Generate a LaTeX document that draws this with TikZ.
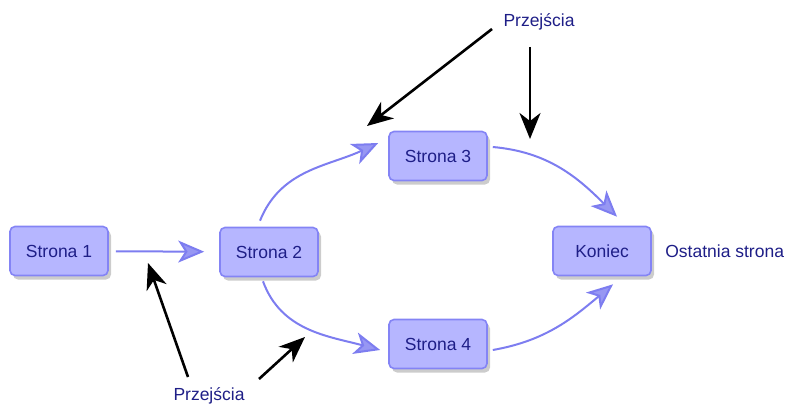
\documentclass[tikz,border=0pt]{standalone}
\usepackage{fontspec}
\setsansfont{Liberation Sans}
\usepackage{tikz}
\usetikzlibrary{arrows.meta,positioning,shadows}
\definecolor{pagefill}{RGB}{182,182,255}
\definecolor{pageline}{RGB}{132,132,245}
\definecolor{linkblue}{RGB}{125,125,240}
\definecolor{ink}{RGB}{30,30,135}
\tikzset{
  page/.style={draw=pageline, line width=1.6pt, rounded corners=5pt, fill=pagefill,
    minimum width=98pt, minimum height=49pt, text=ink,
    font=\sffamily\fontsize{17.5}{20}\selectfont,
    drop shadow={shadow xshift=3pt, shadow yshift=-4pt, opacity=0.4}},
  note/.style={text=ink, font=\sffamily\fontsize{17.5}{20}\selectfont},
  link/.style={draw=linkblue, line width=2pt,
    -{Stealth[length=26pt, width=22pt, inset=7pt, fill=linkblue!80]}},
  pointer/.style={draw=black, line width=2.6pt,
    -{Stealth[length=26pt, width=21pt, inset=8pt]}}
}

\begin{document}
\begin{tikzpicture}[x=1pt, y=-1pt]
    \useasboundingbox (0,0) rectangle (789,407);

    % strony
    \node[page] (s1) at (59,251) {Strona 1};
    \node[page] (s2) at (269,252) {Strona 2};
    \node[page] (s3) at (438,156) {Strona 3};
    \node[page] (s4) at (438,344) {Strona 4};
    \node[page] (end) at (602,251) {Koniec};
    \node[note, right=10pt of end] (last) {Ostatnia strona};

    % etykiety
    \node[note] (lblTop) at (539,22) {Przejścia};
    \node[note] (lblBot) at (209,396) {Przejścia};

    % przejscia
    \draw[link, shorten <=7pt, shorten >=15pt] (s1) -- (s2);
    \draw[link] ([xshift=-9pt,yshift=6pt]s2.north) to[out=68, in=205] ([xshift=-10pt,yshift=13pt]s3.west);
    \draw[link] ([xshift=-6pt,yshift=-4pt]s2.south) to[out=-70, in=165] ([xshift=-8pt,yshift=-6pt]s4.west);
    \draw[link] ([xshift=5pt,yshift=9pt]s3.east) to[out=-5, in=135] ([xshift=15pt,yshift=9pt]end.north);
    \draw[link] ([xshift=5pt,yshift=-6pt]s4.east) to[out=10, in=-140] ([xshift=11pt,yshift=-8pt]end.south);

    % wskazniki
    \coordinate (tipA) at (367,126);
    \coordinate (tipB) at (530,139);
    \coordinate (tipC) at (148,263);
    \coordinate (tipD) at (305,337);
    \draw[pointer] ([xshift=-47pt,yshift=-7pt]lblTop.center) -- (tipA);
    \draw[pointer] (lblTop.south -| tipB) ++(0,13) -- (tipB);
    \draw[pointer] ([xshift=-21pt,yshift=19pt]lblBot.center) -- (tipC);
    \draw[pointer] ([xshift=50pt,yshift=17pt]lblBot.center) -- (tipD);
\end{tikzpicture}
\end{document}
